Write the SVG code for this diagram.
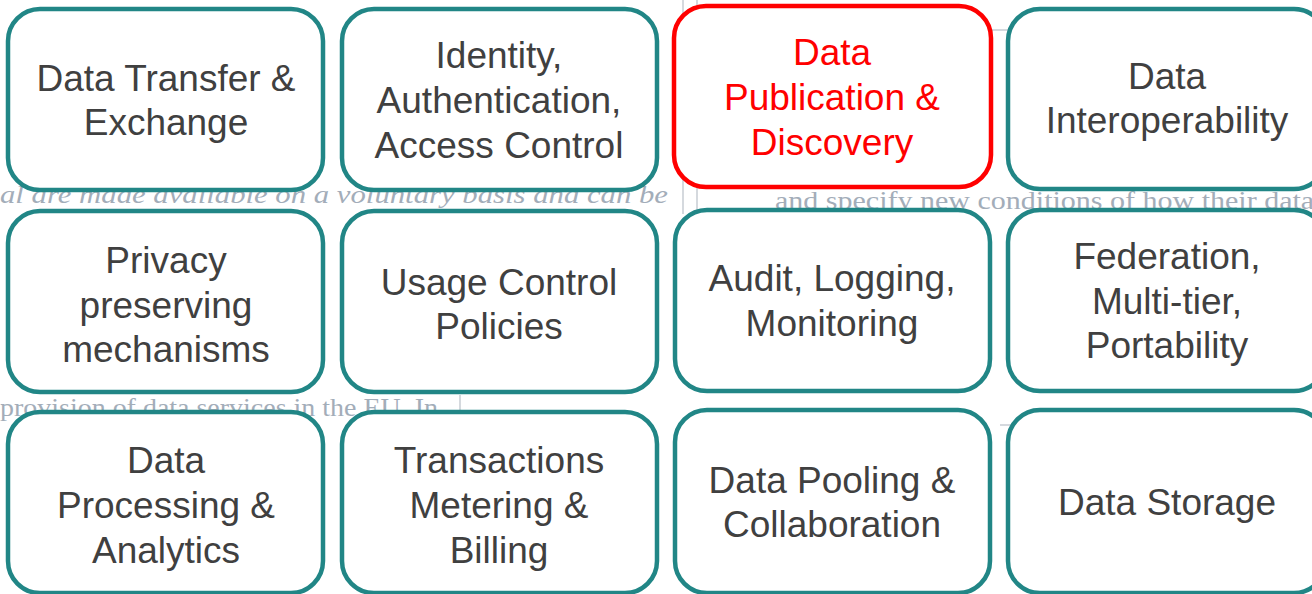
<svg xmlns="http://www.w3.org/2000/svg" width="1312" height="594" viewBox="0 0 1312 594">
<style>
.bg{font-family:"Liberation Serif","Times New Roman",serif;font-size:26px;fill:#a3adb9}
.bgi{font-style:italic}
.ln{stroke:#c8cdd3;stroke-width:1.5;fill:none}
.box{fill:#ffffff;stroke:#218686;stroke-width:4.5}
.hl{fill:#ffffff;stroke:#ff0000;stroke-width:4.5}
.t{font-family:"Liberation Sans",Arial,sans-serif;font-size:37px;fill:#404040;text-anchor:middle}
.tr{fill:#ff0000}
</style>
<rect width="1312" height="594" fill="#ffffff"/>
<g id="background">
<text class="bg bgi" x="0" y="203" textLength="668" lengthAdjust="spacingAndGlyphs">al are made available on a voluntary basis and can be</text>
<text class="bg" x="775" y="209" textLength="560" lengthAdjust="spacingAndGlyphs">and specify new conditions of how their data c</text>
<text class="bg" x="0" y="416" textLength="438" lengthAdjust="spacingAndGlyphs">provision of data services in the EU. In</text>
<path class="ln" d="M683 0V214M697 0V214M697 30H1010M460 395V430M1000 425H1312"/>
</g>
<g id="n1"><rect class="box" x="8" y="9" width="315" height="181" rx="32"/><text class="t" x="166" y="91">Data Transfer &amp;</text><text class="t" x="166" y="135">Exchange</text></g>
<g id="n2"><rect class="box" x="342" y="9" width="315" height="181" rx="32"/><text class="t" x="499" y="68">Identity,</text><text class="t" x="499" y="113">Authentication,</text><text class="t" x="499" y="158">Access Control</text></g>
<g id="n3"><rect class="hl" x="674" y="6" width="317" height="181" rx="32"/><text class="t tr" x="832" y="65">Data</text><text class="t tr" x="832" y="110">Publication &amp;</text><text class="t tr" x="832" y="155">Discovery</text></g>
<g id="n4"><rect class="box" x="1008" y="9" width="318" height="180" rx="32"/><text class="t" x="1167" y="89">Data</text><text class="t" x="1167" y="133">Interoperability</text></g>
<g id="n5"><rect class="box" x="8" y="211" width="315" height="181" rx="32"/><text class="t" x="166" y="273">Privacy</text><text class="t" x="166" y="318">preserving</text><text class="t" x="166" y="362">mechanisms</text></g>
<g id="n6"><rect class="box" x="342" y="211" width="315" height="181" rx="32"/><text class="t" x="499" y="295">Usage Control</text><text class="t" x="499" y="339">Policies</text></g>
<g id="n7"><rect class="box" x="675" y="210" width="315" height="181" rx="32"/><text class="t" x="832" y="291">Audit, Logging,</text><text class="t" x="832" y="336">Monitoring</text></g>
<g id="n8"><rect class="box" x="1008" y="210" width="318" height="181" rx="32"/><text class="t" x="1167" y="269">Federation,</text><text class="t" x="1167" y="314">Multi-tier,</text><text class="t" x="1167" y="358">Portability</text></g>
<g id="n9"><rect class="box" x="8" y="412" width="315" height="181" rx="32"/><text class="t" x="166" y="473">Data</text><text class="t" x="166" y="518">Processing &amp;</text><text class="t" x="166" y="563">Analytics</text></g>
<g id="n10"><rect class="box" x="342" y="412" width="315" height="181" rx="32"/><text class="t" x="499" y="473">Transactions</text><text class="t" x="499" y="518">Metering &amp;</text><text class="t" x="499" y="563">Billing</text></g>
<g id="n11"><rect class="box" x="675" y="410" width="315" height="183" rx="32"/><text class="t" x="832" y="493">Data Pooling &amp;</text><text class="t" x="832" y="537">Collaboration</text></g>
<g id="n12"><rect class="box" x="1008" y="410" width="318" height="183" rx="32"/><text class="t" x="1167" y="515">Data Storage</text></g>
<g id="connectors"/>
</svg>
